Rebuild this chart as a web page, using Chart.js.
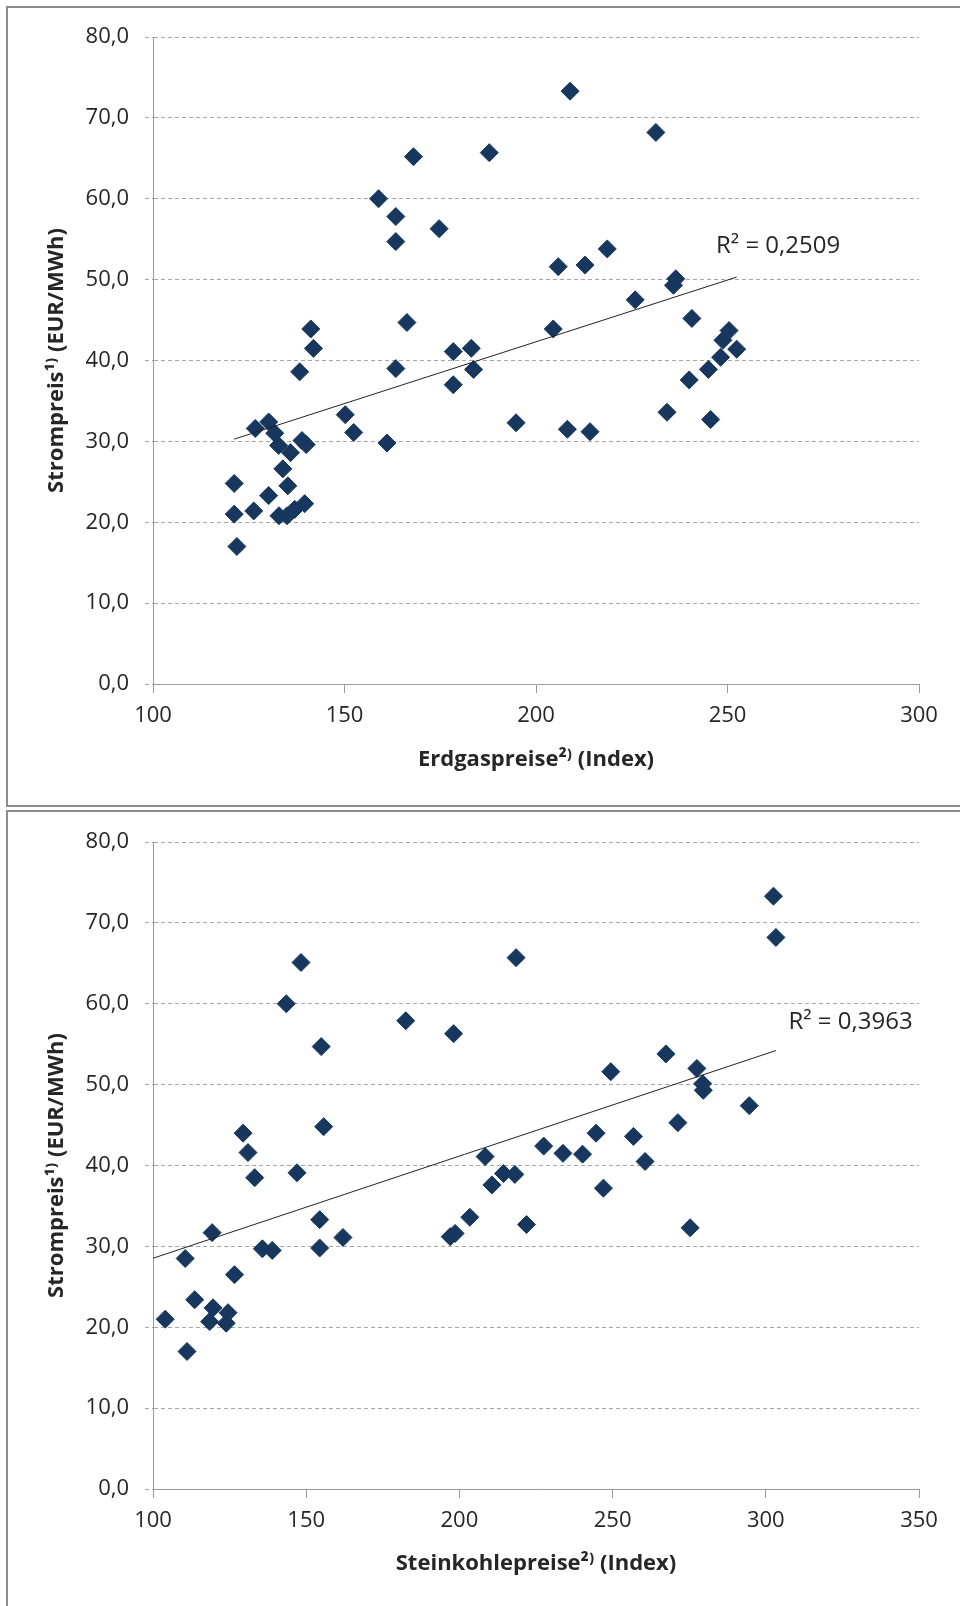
<!DOCTYPE html>
<html>
<head>
<meta charset="utf-8">
<script src="https://cdn.jsdelivr.net/npm/chart.js@4.4.1/dist/chart.umd.min.js"></script>
<style>
body { margin: 0; background: #fff; width: 960px; height: 1606px; overflow: hidden; position: relative; }
.frame { position: absolute; left: 6px; width: 1000px; border: 2px solid #8c8c8c; border-right: none; }
#frame1 { top: 6px; height: 797px; }
#frame2 { top: 810px; height: 900px; border-bottom: none; }
canvas { position: absolute; left: 0; }
#gasChart { top: 0; }
#coalChart { top: 805px; }
</style>
</head>
<body>
<div class="frame" id="frame1"></div>
<div class="frame" id="frame2"></div>
<canvas id="gasChart" width="960" height="806"></canvas>
<canvas id="coalChart" width="960" height="801"></canvas>
<script>
// Erdgas: Index vs. Strompreis
const gasIndex = [168.0, 158.9, 163.4, 163.4, 174.7, 166.3, 141.2, 141.9, 138.3, 163.4,
    178.4, 183.1, 183.7, 178.4, 208.9, 187.8, 231.3, 205.8, 212.8, 218.6,
    236.5, 235.9, 225.9, 204.5, 240.7, 250.4, 248.8, 252.4, 248.2, 245.0,
    240.0, 194.8, 208.2, 214.1, 234.2, 245.6, 150.2, 152.4, 161.1, 126.7,
    130.2, 131.8, 132.8, 135.9, 138.9, 140.0, 133.9, 135.2, 121.2, 130.2,
    121.2, 126.3, 132.9, 135.0, 137.0, 139.6, 121.9];
const gasPower = [65.2, 60.0, 57.8, 54.7, 56.3, 44.7, 43.9, 41.5, 38.6, 39.0,
    41.1, 41.5, 38.9, 37.0, 73.3, 65.7, 68.2, 51.6, 51.8, 53.8,
    50.1, 49.3, 47.5, 43.9, 45.2, 43.7, 42.5, 41.4, 40.4, 38.9,
    37.6, 32.3, 31.5, 31.2, 33.6, 32.7, 33.3, 31.1, 29.8, 31.6,
    32.4, 31.0, 29.5, 28.6, 30.1, 29.6, 26.6, 24.5, 24.8, 23.3,
    21.0, 21.4, 20.8, 20.8, 21.6, 22.3, 17.0];

// Steinkohle: Index vs. Strompreis
const coalIndex = [148.3, 143.5, 154.9, 182.5, 198.1, 129.4, 131.0, 133.2, 147.0, 155.7,
    302.5, 303.3, 218.5, 267.4, 249.4, 277.5, 279.4, 279.6, 294.6, 271.3,
    244.6, 227.5, 233.8, 240.2, 256.8, 260.6, 208.4, 214.4, 218.1, 210.6,
    247.0, 221.9, 275.3, 203.4, 197.0, 198.6, 154.4, 154.4, 162.0, 135.7,
    138.9, 119.3, 110.5, 126.6, 113.6, 104.0, 119.6, 118.5, 124.5, 123.9,
    111.1];
const coalPower = [65.1, 60.0, 54.7, 57.9, 56.3, 44.0, 41.6, 38.5, 39.1, 44.8,
    73.3, 68.2, 65.7, 53.8, 51.6, 52.0, 50.1, 49.3, 47.4, 45.3,
    44.0, 42.4, 41.5, 41.4, 43.6, 40.5, 41.1, 39.0, 38.9, 37.6,
    37.2, 32.7, 32.3, 33.6, 31.2, 31.6, 33.3, 29.8, 31.1, 29.7,
    29.5, 31.7, 28.5, 26.5, 23.4, 21.0, 22.4, 20.7, 21.8, 20.5,
    17.0];

const gasTicks = [100, 150, 200, 250, 300];
const coalTicks = [100, 150, 200, 250, 300, 350];
const priceTicks = [0, 10, 20, 30, 40, 50, 60, 70, 80];
const gasR2 = 'R² = 0,2509';
const coalR2 = 'R² = 0,3963';

const navy = '#17375e';
const textColor = '#262626';
const tickFont = { family: 'Open Sans', size: 22 };
const titleFont = { family: 'Open Sans', size: 22, weight: 'bold' };

// least squares line y = a + b*x
function linFit(xs, ys) {
    let sx = 0, sy = 0, sxx = 0, sxy = 0;
    const n = xs.length;
    for (let i = 0; i < n; i++) {
        sx += xs[i]; sy += ys[i];
        sxx += xs[i] * xs[i]; sxy += xs[i] * ys[i];
    }
    const b = (n * sxy - sx * sy) / (n * sxx - sx * sx);
    const a = (sy - b * sx) / n;
    return x => a + b * x;
}

const r2Label = {
    id: 'r2Label',
    afterDatasetsDraw(chart, args, opts) {
        const ctx = chart.ctx;
        const px = chart.scales.x.getPixelForValue(opts.x);
        const py = chart.scales.y.getPixelForValue(opts.y);
        ctx.save();
        ctx.font = '24px "Open Sans"';
        ctx.fillStyle = textColor;
        ctx.textAlign = 'left';
        ctx.textBaseline = 'middle';
        ctx.fillText(opts.text, px, py);
        ctx.restore();
    }
};

function makeChart(id, xs, ys, xTicks, xTitle, trendFrom, r2Text, r2Pos, titleGap) {
    const canvas = document.getElementById(id);
    const fit = linFit(xs, ys);
    const x0 = trendFrom !== null ? trendFrom : Math.min(...xs);
    const x1 = Math.max(...xs);
    const points = [];
    for (let i = 0; i < xs.length; i++) {
        points.push({ x: xs[i], y: ys[i] });
    }

    return new Chart(canvas, {
        type: 'scatter',
        data: {
            datasets: [
                {
                    type: 'line',
                    data: [{ x: x0, y: fit(x0) }, { x: x1, y: fit(x1) }],
                    borderColor: '#222',
                    borderWidth: 1,
                    pointRadius: 0
                },
                {
                    data: points,
                    pointStyle: 'rectRot',
                    pointRadius: 9,
                    backgroundColor: navy,
                    borderColor: navy,
                    borderWidth: 1
                }
            ]
        },
        options: {
            responsive: false,
            animation: false,
            devicePixelRatio: 1,
            layout: { padding: { top: 37, right: 41, left: 0, bottom: 0 } },
            plugins: {
                legend: { display: false },
                tooltip: { enabled: false },
                r2Label: { text: r2Text, x: r2Pos[0], y: r2Pos[1] }
            },
            scales: {
                x: {
                    type: 'linear',
                    min: xTicks[0],
                    max: xTicks[xTicks.length - 1],
                    afterBuildTicks: s => { s.ticks = xTicks.map(v => ({ value: v })); },
                    afterFit: s => { s.height = canvas.height - 684; },
                    ticks: { font: tickFont, color: textColor, padding: 10, maxRotation: 0 },
                    grid: { drawOnChartArea: false, drawTicks: true, tickLength: 9, color: '#9a9a9a' },
                    border: { color: '#9a9a9a', width: 1 },
                    title: {
                        display: true,
                        text: xTitle,
                        font: titleFont,
                        color: textColor,
                        padding: { bottom: titleGap }
                    }
                },
                y: {
                    min: 0,
                    max: 80,
                    afterBuildTicks: s => { s.ticks = priceTicks.map(v => ({ value: v })); },
                    afterFit: s => { s.width = 153; },
                    ticks: {
                        font: tickFont,
                        color: textColor,
                        padding: 16,
                        callback: v => v.toFixed(1).replace('.', ',')
                    },
                    // dashed horizontal grid lines, solid axis line
                    grid: { color: '#a6a6a6', tickLength: 8, lineWidth: 1, tickBorderDash: [4, 3] },
                    border: { color: '#9a9a9a', width: 1, dash: [4, 3] },
                    title: {
                        display: true,
                        text: 'Strompreis¹⁾ (EUR/MWh)',
                        font: titleFont,
                        color: textColor,
                        padding: { top: 44 }
                    }
                }
            }
        },
        plugins: [r2Label]
    });
}

makeChart('gasChart', gasIndex, gasPower, gasTicks, 'Erdgaspreise²⁾ (Index)', null, gasR2, [247.0, 54.1], 33);
makeChart('coalChart', coalIndex, coalPower, coalTicks, 'Steinkohlepreise²⁾ (Index)', 100, coalR2, [307.4, 57.7], 29);
</script>
</body>
</html>
